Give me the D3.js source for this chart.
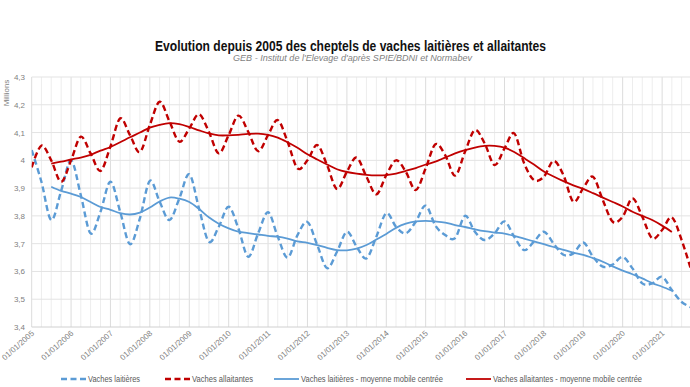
<!DOCTYPE html>
<html>
<head>
<meta charset="utf-8">
<script src="https://cdn.jsdelivr.net/npm/d3@7"></script>
<style>
  body { margin: 0; background: #fff; }
  svg { display: block; }
</style>
</head>
<body>
<div id="chart"></div>
<script>
// Données trimestrielles (01/01, 01/04, 01/07, 01/10), en millions de têtes
const laitieres = [
  4.037, 3.923, 3.785, 3.89,
  4.00, 3.875, 3.737, 3.815,
  3.923, 3.815, 3.698, 3.791,
  3.926, 3.851, 3.785, 3.863,
  3.95, 3.827, 3.707, 3.761,
  3.833, 3.755, 3.653, 3.737,
  3.813, 3.725, 3.65, 3.731,
  3.778, 3.695, 3.612, 3.671,
  3.743, 3.689, 3.647, 3.725,
  3.81, 3.761, 3.737, 3.779,
  3.837, 3.765, 3.731, 3.72,
  3.80, 3.743, 3.713, 3.737,
  3.78, 3.725, 3.677, 3.707,
  3.743, 3.70, 3.66, 3.665,
  3.704, 3.653, 3.617, 3.625,
  3.652, 3.611, 3.557, 3.557,
  3.581, 3.533, 3.49, 3.47
];
const allaitantes = [
  3.975, 4.053, 4.00, 3.923,
  4.00, 4.085, 4.025, 3.962,
  4.05, 4.151, 4.091, 4.03,
  4.127, 4.211, 4.14, 4.067,
  4.115, 4.166, 4.103, 4.025,
  4.091, 4.161, 4.103, 4.033,
  4.091, 4.145, 4.067, 3.971,
  4.00, 4.055, 3.983, 3.897,
  3.959, 4.01, 3.941, 3.878,
  3.947, 4.00, 3.959, 3.893,
  3.971, 4.058, 4.019, 3.945,
  4.031, 4.109, 4.061, 3.983,
  4.043, 4.097, 3.99, 3.929,
  3.941, 3.998, 3.947, 3.851,
  3.90, 3.941, 3.857, 3.779,
  3.797, 3.863, 3.797, 3.719,
  3.749, 3.795, 3.713, 3.60
];
// moyennes mobiles centrées, de 07/2005 à 04/2021
const laitieresMM = [
  3.905, 3.89,
  3.88, 3.868, 3.85, 3.832,
  3.822, 3.81, 3.805, 3.812,
  3.83, 3.852, 3.866, 3.862,
  3.85, 3.825, 3.795, 3.772,
  3.755, 3.743, 3.738, 3.733,
  3.728, 3.725, 3.718, 3.708,
  3.703, 3.695, 3.685, 3.677,
  3.676, 3.682, 3.695, 3.715,
  3.735, 3.757, 3.772, 3.78,
  3.782, 3.78, 3.776, 3.767,
  3.76, 3.752, 3.745, 3.74,
  3.736, 3.728, 3.718, 3.708,
  3.698, 3.688, 3.678, 3.668,
  3.66, 3.648, 3.635, 3.618,
  3.603, 3.59, 3.575, 3.558,
  3.545, 3.531
];
const allaitantesMM = [
  3.988, 3.995,
  4.003, 4.01, 4.02, 4.035,
  4.048, 4.065, 4.083, 4.10,
  4.118, 4.128, 4.134, 4.13,
  4.12, 4.108, 4.097, 4.09,
  4.09, 4.092, 4.095, 4.096,
  4.092, 4.082, 4.065, 4.045,
  4.022, 4.003, 3.985, 3.968,
  3.958, 3.952, 3.948, 3.946,
  3.947, 3.952, 3.962, 3.972,
  3.985, 3.995, 4.01, 4.025,
  4.037, 4.046, 4.052, 4.052,
  4.046, 4.03, 4.008, 3.985,
  3.96, 3.942, 3.925, 3.91,
  3.897, 3.882, 3.866, 3.85,
  3.834, 3.815, 3.80, 3.785,
  3.765, 3.742
];
const yTicks = [3.4, 3.5, 3.6, 3.7, 3.8, 3.9, 4.0, 4.1, 4.2, 4.3];
const tickYears = d3.range(2005, 2022);

const legendItems = [
  { label: "Vaches laitières", color: "#5b9bd5", dashed: true },
  { label: "Vaches allaitantes", color: "#c00000", dashed: true },
  { label: "Vaches laitières - moyenne mobile centrée", color: "#5b9bd5", dashed: false },
  { label: "Vaches allaitantes - moyenne mobile centrée", color: "#c00000", dashed: false }
];

const W = 690, H = 387;
const margin = { top: 77, right: 0, bottom: 60, left: 31.7 };
const plotRight = 690;
const plotBottom = H - margin.bottom; // 327

const quarters = d3.timeMonth.range(new Date(2005, 0, 1), new Date(2021, 10, 1), 3);
const mmDates = d3.timeMonth.range(new Date(2005, 6, 1), new Date(2021, 4, 1), 3);

const x = d3.scaleTime()
  .domain([new Date(2005, 0, 1), new Date(2022, 0, 1)])
  .range([margin.left, margin.left + 39.4 * 17]);
const y = d3.scaleLinear()
  .domain([3.4, 4.3])
  .range([plotBottom, margin.top]);

const svg = d3.select("#chart").append("svg")
  .attr("width", W)
  .attr("height", H)
  .style("font-family", "'Liberation Sans', Arial, sans-serif");

svg.append("defs").append("clipPath").attr("id", "clip")
  .append("rect")
  .attr("x", margin.left).attr("y", 0)
  .attr("width", plotRight - margin.left).attr("height", plotBottom + 2);

// ==== Titre (police étroite simulée avec textLength) ====
svg.append("text")
  .attr("x", 155).attr("y", 51)
  .attr("textLength", 391)
  .attr("lengthAdjust", "spacingAndGlyphs")
  .style("font-weight", "bold")
  .style("font-size", "15px")
  .style("fill", "#111")
  .text("Evolution depuis 2005 des cheptels de vaches laitières et allaitantes");

svg.append("text")
  .attr("x", 233).attr("y", 61)
  .attr("textLength", 239)
  .attr("lengthAdjust", "spacingAndGlyphs")
  .style("font-style", "italic")
  .style("font-size", "8.5px")
  .style("fill", "#7f7f7f")
  .text("GEB - Institut de l'Elevage d'après SPIE/BDNI et Normabev");

// ==== Grille ====
const grid = svg.append("g");
const minorTicks = d3.timeMonth.range(new Date(2005, 0, 1), new Date(2022, 0, 1), 3)
  .filter(d => x(d) <= plotRight);
grid.selectAll(".vminor")
  .data(minorTicks.filter(d => d.getMonth() !== 0))
  .enter().append("line")
  .attr("x1", d => x(d)).attr("x2", d => x(d))
  .attr("y1", margin.top).attr("y2", plotBottom)
  .attr("stroke", "#ededed").attr("stroke-width", 1);
grid.selectAll(".vmajor")
  .data(tickYears)
  .enter().append("line")
  .attr("x1", d => x(new Date(d, 0, 1))).attr("x2", d => x(new Date(d, 0, 1)))
  .attr("y1", margin.top).attr("y2", plotBottom)
  .attr("stroke", "#dcdcdc").attr("stroke-width", 1);
grid.selectAll(".h")
  .data(yTicks)
  .enter().append("line")
  .attr("x1", margin.left).attr("x2", plotRight)
  .attr("y1", d => y(d)).attr("y2", d => y(d))
  .attr("stroke", d => d === 3.4 ? "#d0d0d0" : "#e3e3e3").attr("stroke-width", 1);

// ==== Axes ====
const fmtY = d3.format(".1f");
svg.append("g")
  .selectAll("text")
  .data(yTicks)
  .enter().append("text")
  .attr("x", 25).attr("y", d => y(d) + 3)
  .attr("text-anchor", "end")
  .style("font-size", "8px")
  .style("fill", "#808080")
  .text(d => d === 4 ? "4" : fmtY(d).replace(".", ","));

svg.append("text")
  .attr("transform", "translate(9,93) rotate(-90)")
  .attr("text-anchor", "middle")
  .style("font-size", "8px")
  .style("fill", "#808080")
  .text("Millions");

const fmtDate = d3.timeFormat("%d/%m/%Y");
svg.append("g")
  .selectAll("text")
  .data(tickYears)
  .enter().append("text")
  .attr("transform", d => `translate(${x(new Date(d, 0, 1)) + 3},${plotBottom + 7}) rotate(-42)`)
  .attr("text-anchor", "end")
  .style("font-size", "8px")
  .style("fill", "#808080")
  .text(d => fmtDate(new Date(d, 0, 1)));

// ==== Courbes ====
const lines = svg.append("g").attr("clip-path", "url(#clip)");
const line = d3.line()
  .x(d => x(d[0]))
  .y(d => y(d[1]))
  .curve(d3.curveCatmullRom.alpha(0));

const series = [
  { dates: quarters, values: laitieres, color: "#5b9bd5", dashed: true },
  { dates: quarters, values: allaitantes, color: "#c00000", dashed: true },
  { dates: mmDates, values: laitieresMM, color: "#5b9bd5", dashed: false },
  { dates: mmDates, values: allaitantesMM, color: "#c00000", dashed: false }
];

series.forEach(s => {
  lines.append("path")
    .datum(s.dates.map((d, i) => [d, s.values[i]]))
    .attr("fill", "none")
    .attr("stroke", s.color)
    .attr("stroke-width", s.dashed ? 2.4 : 1.8)
    .attr("stroke-dasharray", s.dashed ? "6,3.5" : null)
    .attr("d", line);
});

// ==== Légende ====
const legendX = [61, 165, 274, 466];
const legendW = [52, 61, 142, 149];
const legend = svg.append("g");
legendItems.forEach((it, i) => {
  const g = legend.append("g").attr("transform", `translate(${legendX[i]},379)`);
  g.append("line")
    .attr("x1", 0).attr("x2", 25).attr("y1", 0).attr("y2", 0)
    .attr("stroke", it.color)
    .attr("stroke-width", it.dashed ? 2.4 : 1.8)
    .attr("stroke-dasharray", it.dashed ? "6,3.5" : null);
  g.append("text")
    .attr("x", 27).attr("y", 3)
    .attr("textLength", legendW[i])
    .attr("lengthAdjust", "spacingAndGlyphs")
    .style("font-size", "9px")
    .style("fill", "#595959")
    .text(it.label);
});
</script>
</body>
</html>
